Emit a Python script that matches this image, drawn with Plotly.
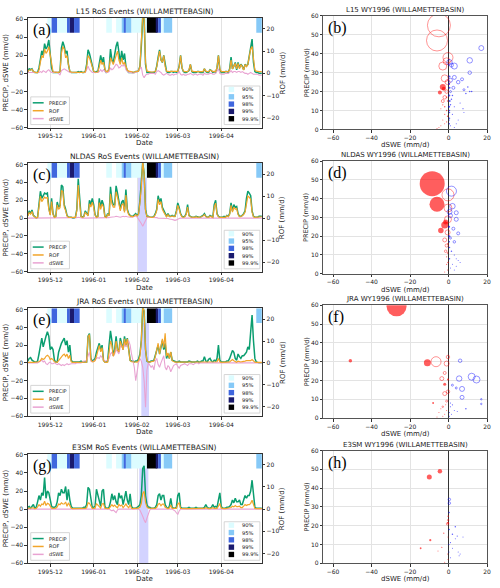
import plotly.graph_objects as go
import pandas as pd

# ---------------- data ----------------
START_DATE = "1995-11-15"
END_DATE = "1996-04-30"
DATES = pd.date_range(START_DATE, END_DATE, freq="D")  # 168 daily values

MONTH_TICKS = ["1995-12-01", "1996-01-01", "1996-02-01", "1996-03-01", "1996-04-01"]
MONTH_LABELS = ["1995-12", "1996-01", "1996-02", "1996-03", "1996-04"]

MODELS = ["L15", "NLDAS", "JRA", "E3SM"]

PRECIP_L15 = [2,5,4,5,2,1,1,1,6,15, 25,20,33,27,30,37,20,6,1,1, 1,1,1,2,28,35,30,22,25,10,
              2,1,1,1,1,1,2,1,2,1, 1,2,10,26,22,15,8,2,1,2, 2,12,20,12,18,4,1,2,5,27,
              15,12,22,30,35,20,12,25,15,22, 8,3,1,1,1,1,1,2,2,3, 8,30,62,60,10,1,1,1,1,1,
              1,2,8,18,26,15,12,20,8,2, 1,1,2,2,1,2,1,2,8,20, 6,2,1,1,2,3,10,2,1,1,
              1,2,2,1,1,1,5,2,1,1, 4,3,1,2,1,6,20,4,1,1, 1,2,2,1,5,18,5,8,12,4,
              12,6,10,8,4,10,8,10,18,30, 38,12,2,1,1,0,0,0]
ROF_L15 = [0.8,1.5,1.5,1.8,0.8,0.4,0.3,0.3,1.5,5, 8,7,11,9,10,12,8,3,0.8,0.5,
           0.4,0.4,0.4,0.8,9,12,11,7,8,4, 1,0.5,0.4,0.4,0.4,0.4,0.5,0.4,0.5,0.4,
           0.4,0.6,3,8,7,5,3,1,0.5,0.6, 0.6,3,6,4,5,2,0.8,0.8,2,7,
           5,4,6,8,10,6,4,7,4,5, 3,1.5,1,0.8,0.6,0.5,0.5,0.8,0.8,1,
           3,12,26,25,5,1,0.8,0.6,0.6,0.6, 0.6,0.8,3,7,10,6,5,8,3,1,
           0.8,0.8,0.9,0.9,0.8,0.8,0.8,0.9,3,8, 2.5,1,0.8,0.8,0.8,1.5,4,1,0.8,0.8,
           0.8,0.8,0.9,0.8,0.8,0.8,2,1,0.8,0.8, 1.5,1.2,0.8,0.9,0.8,2.5,8,2,0.8,0.8,
           0.8,0.9,0.9,0.8,1.5,6,2,3,4.5,2, 4.5,2,4,3,1.5,4,3,4,7,11,
           12,5,1.5,1,0.8,0.8,0.8,0.8]
DSWE_L15 = [1,1,1,1,1,1,1,1,1,2, 1,3,2,1,3,4,2,1,1,1, 2,1,0,-2,3,4,5,4,3,2,
            1,1,1,1,1,1,1,1,1,1, 1,1,4,8,4,2,1,1,1,1, 1,2,4,2,4,2,1,1,2,6,
            4,5,8,10,9,6,7,9,8,10, 4,2,1,1,1,0,1,1,2,3, 5,7,-2,-5,-2,-1,-1,0,0,0,
            0,-1,2,3,2,1,-1,-2,-1,0, -1,-2,-2,-1,-2,-1,-1,0,2,-1, -2,-1,-2,-2,-1,-1,0,-1,-2,-1,
            -1,-2,-1,-1,-1,-2,0,-1,-1,-1, 0,0,-1,-1,0,2,5,0,-1,-1, -1,0,0,0,1,3,1,2,2,1,
            2,2,1,2,1,0,0,-1,0,1, 0,-1,-1,-1,-1,-2,-2,-2]

PRECIP_NLDAS = [3,8,5,9,3,1,0,1,15,30, 22,25,28,27,28,12,4,22,5,1, 2,18,12,14,37,35,15,10,3,1,
                1,1,0,0,1,10,44,20,2,1, 2,8,5,3,20,15,22,15,4,1, 2,22,12,20,15,2,1,5,3,35,
                20,15,15,36,28,20,10,18,20,8, 32,10,5,3,2,2,3,5,3,5, 20,40,62,50,10,2,2,1,1,1,
                2,5,10,25,18,22,12,8,5,2, 5,2,2,3,2,2,8,17,12,5, 2,1,2,5,15,3,2,1,1,1,
                2,1,1,1,2,3,5,2,1,1, 3,2,1,15,20,5,2,1,1,1, 2,1,3,2,5,17,8,15,12,13,
                5,2,2,3,5,8,22,30,28,25, 8,2,1,1,1,2,2,2]
ROF_NLDAS = [1,2.5,1.8,3,1,0.3,0.1,0.3,5,10, 7.5,8.5,9.5,9,9.5,4,1.3,7.5,1.7,0.3,
             0.6,6,4,4.7,12.5,12,5,3.4,1,0.3, 0.3,0.3,0.1,0.1,0.3,3.4,15,6.8,0.7,0.3,
             0.6,2.7,1.7,1,6.5,5,7.2,5,1.3,0.3, 0.6,7,4,6.5,5,0.6,0.3,1.6,1,11,
             6.5,5,5,12,9.5,6.5,3.3,6,6.5,2.6, 10.5,3.4,1.6,1,0.6,0.6,1,1.6,1,1.6,
             7,14,26,20,3.4,0.6,0.6,0.3,0.3,0.3, 0.6,1.6,3.4,8.5,6,7.5,4,2.7,1.6,0.6,
             1.6,0.6,0.6,1,0.6,0.6,2.7,5.8,4,1.6, 0.6,0.3,0.6,1.6,5,1,0.6,0.3,0.3,0.3,
             0.6,0.3,0.3,0.3,0.6,1,1.6,0.6,0.3,0.3, 1,0.6,0.3,5,6.8,1.6,0.6,0.3,0.3,0.3,
             0.6,0.3,1,0.6,1.6,5.8,2.7,5,4,4.4, 1.6,0.6,0.6,1,1.6,2.7,7.5,10,9.5,8.5,
             2.7,0.6,0.3,0.3,0.3,0.6,0.6,0.6]
DSWE_NLDAS = [0,0,0,0,0,0,0,0,0,0, 0,0,0,0,0,0,0,0,0,0, 0,0,0,0,0.5,0.5,0,0,0,0,
              0,0,0,0,0,0.5,1,0.5,0,0, 0,0,0,0,0.5,0.5,0.5,0,0,0, 0,0.5,0.5,0.5,0,0,0,0,0.5,1,
              1,1,1.5,2,1.5,1,1,1.5,2,1.5, 2,1.5,1,1,1,1.5,2,2.5,1,-1, -3,-6,-9,-6,-2,0.5,1,1,1,1,
              1,0.5,0.5,0,0,0,0,0,0,0, -0.5,-1,-1,-1.5,-2,-2.5,-2,-1,-0.5,0, 0,0,0,0,0,0,0,0,0,0,
              0,0,0,-0.5,-0.5,-0.5,0,0,0,0, 0,0,0,0,0,0,0,0,0,0, 0,0,0,0,0,0,0,0,0,0,
              0,0,0,0,0,0,0,0,0,0, 0,0,0,0,0,0,0,0]

PRECIP_JRA = [2,5,6,3,2,1,1,2,10,20, 28,18,25,30,35,30,15,18,15,3, 1,1,12,18,22,25,28,20,25,12,
              20,3,1,1,1,1,1,1,2,1, 1,1,1,30,33,5,2,3,5,12, 18,22,15,20,3,1,1,2,20,36,
              25,8,15,30,15,12,28,20,15,30, 20,28,15,3,2,2,1,2,2,4, 10,25,62,58,15,2,1,1,2,2,
              3,8,15,20,10,18,25,15,22,5, 10,5,12,3,2,1,1,1,2,1, 1,1,1,1,1,2,1,1,1,1,
              1,2,1,1,2,2,7,2,1,4, 5,2,1,3,2,5,20,3,1,1, 1,1,2,2,5,10,14,12,5,3,
              10,7,5,8,8,10,12,18,15,35, 54,25,5,1,0,0,0,0]
ROF_JRA = [0.2,0.3,0.3,0.2,0.2,0.2,0.2,0.2,0.5,1, 2,1.5,2,3,3.5,3,1.5,2,1.5,0.5,
           0.2,0.2,1,2,3,3.5,4,3,4,2, 3.5,0.5,0.2,0.2,0.2,0.2,0.2,0.2,0.2,0.2,
           0.2,0.2,0.3,12,13,1.5,0.5,0.5,1,3, 6,8,5,7,1,0.3,0.2,0.3,5,10,
           8,3,5,10,6,5,10,8,6,11, 8,11,6,1,0.5,0.4,0.3,0.3,0.3,1,
           3,10,26,24,6,1,0.4,0.3,0.4,0.4, 0.8,3,6,9,4,7,11,7,13.5,3,
           4.5,2,5,1,0.5,0.3,0.3,0.3,0.3,0.2, 0.2,0.2,0.2,0.2,0.2,0.2,0.2,0.2,0.2,0.2,
           0.2,0.2,0.2,0.2,0.2,0.2,0.5,0.3,0.2,0.4, 0.5,0.3,0.2,0.3,0.3,0.5,2,0.5,0.2,0.2,
           0.2,0.2,0.2,0.2,0.4,1,1.5,1,0.5,0.3, 0.8,0.5,0.4,0.6,0.6,0.8,1,1,0.8,1,
           1.5,0.8,0.3,0.2,0.2,0.2,0.2,0.2]
DSWE_JRA = [0,0,0,0,0,0,0,0,1,2, 3,1,2,-1,-2,0,1,-1,-1,0, -1,-2,-1,-2,-3,-2,-3,-2,-1,-2,
            -1,-1,-1,-1,-1,0,0,0,0,1, 2,2,3,8,12,2,1,2,3,5, 6,5,8,6,3,2,2,3,5,10,
            12,8,10,15,12,10,18,20,15,22, 18,20,25,20,10,2,-5,-20,-8,0, 5,2,-5,-20,-50,-8,0,-2,-5,-3,
            -8,2,5,-2,-5,0,5,8,-5,-8, -3,-5,-10,-6,-3,-2,-1,-4,-6,-3, -2,-2,-1,-2,-3,-1,-1,-1,-2,-1,
            0,0,-1,0,0,0,0,0,0,0, 0,0,0,0,0,0,0,0,0,0, 0,0,0,0,0,0,0,0,0,0,
            0,0,0,0,0,0,0,0,0,0, 0,0,0,0,0,0,0,0]

PRECIP_E3SM = [2,3,1,3,5,1,2,8,15,10, 18,15,35,12,20,18,8,3,2,2, 3,8,18,15,22,18,18,25,10,22,
               10,3,1,1,1,1,1,1,1,1, 2,2,5,24,22,10,2,2,3,22, 15,8,3,20,22,3,1,1,2,8,
               17,10,15,8,5,18,12,15,5,12, 20,10,5,17,3,1,1,1,2,3, 5,15,45,48,15,5,2,2,1,1,
               1,2,5,15,17,10,15,15,5,2, 1,3,12,2,1,1,2,15,18,2, 1,1,1,1,1,2,1,1,1,1,
               2,1,1,1,1,1,2,5,2,1, 1,2,5,2,3,2,10,18,3,1, 1,1,2,2,3,5,10,7,12,8,
               8,10,5,5,10,15,12,15,15,20, 32,12,2,1,1,1,1,1]
ROF_E3SM = [0.3,0.4,0.2,0.4,0.6,0.2,0.3,1,2,1.3, 2.3,2,3.5,1.6,2.6,2.3,1,0.4,0.3,0.3,
            0.4,1,2.3,2,2.8,2.3,2.3,3.2,1.3,2.8, 1.3,0.4,0.2,0.2,0.2,0.2,0.2,0.2,0.2,0.2,
            0.3,0.3,0.6,2.8,2.6,1.2,0.3,0.3,0.4,2.5, 1.8,1,0.4,2.3,2.5,0.4,0.2,0.2,0.3,1,
            2,1.2,1.8,1,0.6,2.1,1.4,1.8,0.6,1.4, 2.3,1.2,0.6,2,0.4,0.2,0.2,0.2,0.3,0.4,
            0.8,2.5,7,8,3,1,0.4,0.4,0.2,0.2, 0.2,0.3,0.8,2.2,2.5,1.5,2.2,2.2,0.8,0.3,
            0.2,0.5,1.8,0.3,0.2,0.2,0.3,2.2,2.8,0.3, 0.2,0.2,0.2,0.2,0.2,0.2,0.2,0.2,0.2,0.2,
            0.2,0.2,0.2,0.2,0.2,0.2,0.3,0.6,0.3,0.2, 0.2,0.3,0.6,0.3,0.4,0.3,1.3,2.5,0.4,0.2,
            0.2,0.2,0.3,0.3,0.4,0.7,1.3,1,1.6,1.1, 1.1,1.3,0.7,0.7,1.3,2,1.6,2,2,2.6,
            4,1.6,0.3,0.2,0.2,0.2,0.2,0.2]
DSWE_E3SM = [0,0,0,0,0,0,0,0,0,0, 0,0,0,0,0,0,0,0,0,0, 0,0,0,0,0,0,0,0,0,0,
             0,0,0,0,0,0,0,0,0,0, 0,0,0,0,0,0,0,0,0,0, 0,0,0,0,0,0,0,0,0,-1,
             -2,-1,-3,-4,-1,0,0,0,0,0, 0,0,0,0,0,0,0,0,0,0, -1,-4,-8,-12,-15,-10,-4,-1,0,0,
             0,0,0,0,0,0,0,0,0,0, 0,0,0,0,-1,-2,-4,-6,-2,0, 0,0,0,0,0,0,0,0,0,0,
             0,0,0,0,0,0,0,0,0,0, 0,0,0,0,0,0,0,0,0,0, 0,0,0,0,0,0,0,0,0,0,
             0,0,0,0,0,0,0,0,0,0, 0,0,0,0,0,0,0,0]

PRECIP = {"L15": PRECIP_L15, "NLDAS": PRECIP_NLDAS, "JRA": PRECIP_JRA, "E3SM": PRECIP_E3SM}
ROF = {"L15": ROF_L15, "NLDAS": ROF_NLDAS, "JRA": ROF_JRA, "E3SM": ROF_E3SM}
DSWE = {"L15": DSWE_L15, "NLDAS": DSWE_NLDAS, "JRA": DSWE_JRA, "E3SM": DSWE_E3SM}

# RoS percentile band (same in all panels)
BAND_START = ["1995-11-29", "1995-12-02", "1995-12-06", "1995-12-13", "1995-12-15", "1995-12-18",
              "1996-01-10", "1996-01-17", "1996-01-21", "1996-01-23", "1996-01-24", "1996-01-28",
              "1996-02-08", "1996-02-15", "1996-02-16", "1996-02-18", "1996-02-20", "1996-04-26"]
BAND_END = ["1995-12-02", "1995-12-06", "1995-12-13", "1995-12-15", "1995-12-18", "1995-12-22",
            "1996-01-14", "1996-01-21", "1996-01-23", "1996-01-24", "1996-01-28", "1996-02-08",
            "1996-02-15", "1996-02-16", "1996-02-18", "1996-02-20", "1996-02-26", "1996-04-30"]
BAND_LEVEL = ["90%", "98%", "90%", "98%", "99%", "98%",
              "90%", "90%", "95%", "98%", "95%", "90%",
              "99.9%", "99%", "98%", "90%", "95%", "95%"]
LEVELS = ["90%", "95%", "98%", "99%", "99.9%"]

# highlighted event window
SPAN = {"L15": None,
        "NLDAS": ("1996-02-01", "1996-02-08"),
        "JRA": ("1996-02-04", "1996-02-09 12:00"),
        "E3SM": ("1996-02-02 12:00", "1996-02-09")}

# scatter: dSWE, PRECIP, magnitude (marker diameter), RoS flag
SC_L15_DSWE = [-5,-6,-3,-0.3,-1,-2,-0.5,-2,-3,-1,-3,-4.5,-2.5,17,11,3,0.5,1.5,11,3,7,5,1,2.5,1,8,
               11,10,12,9,6,7.5,3,2,5,8,4,1.5,2,0.5,1,0.5,1,3,0.5,0.3,0.5,0.4,0.6,0.3,0.5,0.5,0.4,
               -1,-2,-3,-4,-5,-1,-2,-0.5,-1,-3,-6,-4,-2,-0.5]
SC_L15_PRECIP = [55,47,33.5,38,36,27,25,17,15,20,22.5,19.5,21.5,43,36.5,33.5,35.5,34,30,27.5,26.5,25,26,22,20,21,
                 20,22.5,20,19,14,11,12,8,5,9,3,16,18,10,13,5,2,1,28,24,22,18,15,12,9,6,3,
                 10,8,5,2,1,4,12,15,17,13,0.5,11,3,7]
SC_L15_MAG = [23,21,8,10,7,7,5,3.5,3,3.5,6,4,4,5,5.5,6,5.5,4,3.5,4,3,3.5,4,3,2,2,
              1.5,1.5,1.5,1.5,1.2,1.2,1.2,1.2,1,1,1,1.5,1.5,1.5,1.5,1.2,1,1,2,2,2,2,2,2,1.5,1.5,1.5,
              1.5,1.2,1,1,1,1.2,1.5,1.5,1.5,1.2,1,1,1,1.5]
SC_L15_EVENT = [0,0,0,0,0,0,0,0,0,0,1,1,1,0,0,0,0,0,0,0,0,0,0,0,0,0,
                1,1,1,1,1,1,1,1,1,1,1,1,1,1,1,1,1,1,1,1,1,1,1,1,1,1,1,
                1,1,1,1,1,1,1,1,1,1,1,1,1,1]

SC_NLDAS_DSWE = [-8.5,-6,-2,-4,-1.5,-0.3,-0.3,-0.3,-2,-0.5,-1,-1.5,1.5,2,4,4,1,0.5,5,3,2.5,1,
                 3,4,5,6,2,1,3,1.5,0.5,0.5,4,0.4,0.3,0.4,-1,-0.5,-2,-1,-0.5,-0.4,-0.3]
SC_NLDAS_PRECIP = [48,37,26,23,27.5,42,35,29,18,22,15,12,44,36,32.5,29,31,33,21.5,17,24,19,
                   10,8,7,6,5,3,2,12,8,14,4,20,25,17,5,2,1,9,11,16,6]
SC_NLDAS_MAG = [25,15,7,5.5,5,12,8,7,4,5,3,2.5,10,5.5,4,4,4,5,3,2.5,3,2,
                1.2,1,1,1,1,1,1,1.5,1.5,1.5,1,2,2,1.5,1.2,1.2,1,1.2,1.5,1.5,1.5]
SC_NLDAS_EVENT = [1,1,1,1,1,0,0,0,0,0,0,0,0,0,0,0,0,0,0,0,0,0,
                  1,1,1,1,1,1,1,1,1,1,1,1,1,1,1,1,1,1,1,1,1]

SC_JRA_DSWE = [-27,-51,-11,-2,-8,-0.3,-6.5,-0.3,-1,-2,-3.5,-2,-0.3,-1,-3,12,14.5,5.5,7,7,6,2,4,17,17,
               9,1,2,3,0.5,1.5,4.5,1,0.5,-4,-5,-2,-3,-1,-6,-1.5]
SC_JRA_PRECIP = [59.5,30.5,29.5,18,8,20.5,30,32.5,29,24,21,13,14,9,6,22,20.5,21,15.5,11,30.5,17.5,16,10,7.5,
                 5,6,7,4,3,2,3.5,8,1,5,3,2,1,4,0.5,7]
SC_JRA_MAG = [20,3.5,7,3,2,2,10,3.5,5,3,4,4,3.5,2,1.5,7,7,5.5,5,4,3.5,2,2,1.5,1.5,
              1.5,1.2,1.2,1,1,1,1,1.2,1,1,1,1,1,1,1,1]
SC_JRA_EVENT = [1,1,1,1,1,1,0,0,0,0,0,0,0,0,0,0,0,0,0,0,0,0,0,0,0,
                1,1,1,1,1,1,1,1,1,1,1,1,1,1,1,1]

SC_E3SM_DSWE = [-10,-4.5,-9.5,-14.5,-3.5,-2.5,-5.5,-0.2,-0.3,-0.5,-0.2,0.4,0.4,3.5,2,4.5,3.5,7.5,1,5,6,5.5,2,1,
                0.3,0.3,0.2,0.2,-0.3,-0.5,-0.3,-2]
SC_E3SM_PRECIP = [46,49,12.3,8,8.5,16,6.5,25,21.5,21,23,34,32,19.5,15.5,14.5,13,14,11,6,5,4,8,3,
                  27,18,10,6,14,5,2,0.5]
SC_E3SM_MAG = [5,4.5,2.2,1.8,1.3,1.3,1,1.5,2,2.5,1.5,2.5,2.5,1.5,1.5,1.2,1,1,1.2,1,1,1,1,1,
               1.5,1.5,1.2,1.2,1,1,1,1]
SC_E3SM_EVENT = [1,1,1,1,1,1,1,1,1,0,0,0,0,1,1,1,1,1,1,1,1,1,1,1,
                 1,1,1,1,1,1,1,1]

SCATTER = {"L15": (SC_L15_DSWE, SC_L15_PRECIP, SC_L15_MAG, SC_L15_EVENT),
           "NLDAS": (SC_NLDAS_DSWE, SC_NLDAS_PRECIP, SC_NLDAS_MAG, SC_NLDAS_EVENT),
           "JRA": (SC_JRA_DSWE, SC_JRA_PRECIP, SC_JRA_MAG, SC_JRA_EVENT),
           "E3SM": (SC_E3SM_DSWE, SC_E3SM_PRECIP, SC_E3SM_MAG, SC_E3SM_EVENT)}

PANEL_LETTERS = [("(a)", "(b)"), ("(c)", "(d)"), ("(e)", "(f)"), ("(g)", "(h)")]

# ---------------- styling / layout ----------------
W, H = 500, 588
FONT = "DejaVu Sans"
C_PRECIP = "#0b9e70"
C_ROF = "#f2a52a"
C_DSWE = "#e9a3d2"
LEVEL_COLORS = {"90%": "#dcfcff", "95%": "#86c9f7", "98%": "#3f66de", "99%": "#1a1a6e", "99.9%": "#000000"}

TIME_TOP = [14, 161, 308, 455]
TIME_BOT = [125, 271, 417, 566]
SCAT_TOP = [12, 159, 305, 452]
SCAT_BOT = [127, 273, 419, 566]
TX0, TX1 = 28, 264
SX0, SX1 = 326, 491


def px(x):
    return x / W


def py(y):
    return 1 - y / H


def ax_name(kind, n):
    return kind + "axis" + ("" if n == 1 else str(n))


def ax_ref(kind, n):
    return kind + ("" if n == 1 else str(n))


fig = go.Figure()
layout = dict(width=W, height=H, margin=dict(l=0, r=0, t=0, b=0),
              paper_bgcolor="white", plot_bgcolor="white", showlegend=False,
              barmode="overlay", font=dict(family=FONT, size=6, color="#222"))
shapes = []
annotations = []

band_s = pd.to_datetime(BAND_START)
band_e = pd.to_datetime(BAND_END)
band_mid = band_s + (band_e - band_s) / 2
band_w = [(e - s).total_seconds() * 1000 for s, e in zip(band_s, band_e)]
band_col = [LEVEL_COLORS[l] for l in BAND_LEVEL]

tick_font = dict(family=FONT, size=6, color="#222")
common_ticks = dict(ticks="outside", ticklen=2.5, tickcolor="#333", tickfont=tick_font,
                    ticklabeloverflow="allow")

for k, model in enumerate(MODELS):
    nt = 2 * k + 1
    ns = 2 * k + 2
    nr = 9 + k
    t0, t1 = TIME_TOP[k], TIME_BOT[k]
    s0, s1 = SCAT_TOP[k], SCAT_BOT[k]

    # ---- time-series axes ----
    layout[ax_name("x", nt)] = dict(
        domain=[px(TX0), px(TX1)], anchor=ax_ref("y", nt), type="date",
        range=[DATES[0], DATES[-1]], tickvals=MONTH_TICKS, ticktext=MONTH_LABELS,
        showgrid=True, gridcolor="#e2e2e2", gridwidth=1, zeroline=False,
        showline=True, mirror=True, linecolor="#333", linewidth=1, **common_ticks)
    layout[ax_name("y", nt)] = dict(
        domain=[py(t1), py(t0)], anchor=ax_ref("x", nt), range=[-60, 61.5],
        tickvals=[-60, -40, -20, 0, 20, 40, 60], showgrid=False, zeroline=False,
        showline=True, linecolor="#333", linewidth=1, **common_ticks)
    layout[ax_name("y", nr)] = dict(
        overlaying=ax_ref("y", nt), side="right", anchor=ax_ref("x", nt),
        range=[-24.4, 25.0], tickvals=[-20, -10, 0, 10, 20], showgrid=False, zeroline=False,
        showline=True, linecolor="#333", linewidth=1, **common_ticks)

    xr, yr, rr = ax_ref("x", nt), ax_ref("y", nt), ax_ref("y", nr)

    # percentile band
    fig.add_trace(go.Bar(x=band_mid, y=[61.5 - 45] * len(band_mid), base=45, width=band_w,
                         marker=dict(color=band_col, line=dict(width=0)),
                         xaxis=xr, yaxis=yr, hoverinfo="skip"))
    # lines
    fig.add_trace(go.Scatter(x=DATES, y=PRECIP[model], mode="lines", name="PRECIP",
                             line=dict(color=C_PRECIP, width=1.5), xaxis=xr, yaxis=yr))
    fig.add_trace(go.Scatter(x=DATES, y=DSWE[model], mode="lines", name="dSWE",
                             line=dict(color=C_DSWE, width=1.1), xaxis=xr, yaxis=yr))
    fig.add_trace(go.Scatter(x=DATES, y=ROF[model], mode="lines", name="ROF",
                             line=dict(color=C_ROF, width=1.2), xaxis=xr, yaxis=rr))

    if SPAN[model] is not None:
        shapes.append(dict(type="rect", xref=xr, yref=yr + " domain",
                           x0=SPAN[model][0], x1=SPAN[model][1], y0=0, y1=1,
                           fillcolor="rgba(80,80,255,0.25)", line=dict(width=0), layer="below"))

    # ---- scatter axes ----
    layout[ax_name("x", ns)] = dict(
        domain=[px(SX0), px(SX1)], anchor=ax_ref("y", ns), range=[-65, 20],
        tickvals=[-60, -40, -20, 0, 20], showgrid=True, gridcolor="#e3e3e3", gridwidth=1.3,
        zeroline=True, zerolinecolor="#333", zerolinewidth=1.2,
        showline=True, mirror=True, linecolor="#555", linewidth=1, **common_ticks)
    layout[ax_name("y", ns)] = dict(
        domain=[py(s1), py(s0)], anchor=ax_ref("x", ns), range=[0, 60],
        tickvals=[0, 10, 20, 30, 40, 50, 60], showgrid=True, gridcolor="#e3e3e3", gridwidth=1.3,
        zeroline=False, showline=True, mirror=True, linecolor="#555", linewidth=1, **common_ticks)
    sxr, syr = ax_ref("x", ns), ax_ref("y", ns)

    dx, pr, mag, ev = SCATTER[model]
    for neg in (True, False):
        col = (255, 0, 0) if neg else (0, 0, 255)
        for filled in (0, 1):
            idx = [i for i in range(len(dx)) if (dx[i] < 0) == neg and ev[i] == filled]
            if not idx:
                continue
            xs = [dx[i] for i in idx]
            ys = [pr[i] for i in idx]
            ss = [mag[i] for i in idx]
            if filled:
                marker = dict(size=ss, color="rgba(%d,%d,%d,0.9)" % col, line=dict(width=0),
                              symbol="circle")
            else:
                marker = dict(size=ss, color="rgba(%d,%d,%d,0.6)" % col, symbol="circle-open",
                              line=dict(width=1, color="rgba(%d,%d,%d,0.6)" % col))
            fig.add_trace(go.Scatter(x=xs, y=ys, mode="markers", marker=marker, cliponaxis=True,
                                     xaxis=sxr, yaxis=syr, hoverinfo="skip"))

    # ---- texts ----
    annotations.append(dict(text=f"{model} RoS Events (WILLAMETTEBASIN)", xref="paper", yref="paper",
                            x=px((TX0 + TX1) / 2), y=py(t0 - 6.5), showarrow=False,
                            font=dict(size=7.5, family=FONT, color="#222"), xanchor="center", yanchor="middle"))
    annotations.append(dict(text=f"{model} WY1996 (WILLAMETTEBASIN)", xref="paper", yref="paper",
                            x=px((SX0 + SX1) / 2), y=py(s0 - 6), showarrow=False,
                            font=dict(size=7, family=FONT, color="#222"), xanchor="center", yanchor="middle"))
    annotations.append(dict(text="PRECIP, dSWE (mm/d)", xref="paper", yref="paper", textangle=-90,
                            x=px(6), y=py((t0 + t1) / 2), showarrow=False,
                            font=dict(size=7, family=FONT, color="#222"), xanchor="center", yanchor="middle"))
    annotations.append(dict(text="ROF (mm/d)", xref="paper", yref="paper", textangle=-90,
                            x=px(285), y=py((t0 + t1) / 2), showarrow=False,
                            font=dict(size=7, family=FONT, color="#222"), xanchor="center", yanchor="middle"))
    annotations.append(dict(text="Date", xref="paper", yref="paper",
                            x=px((TX0 + TX1) / 2), y=py(t1 + 16), showarrow=False,
                            font=dict(size=7, family=FONT, color="#222"), xanchor="center", yanchor="middle"))
    annotations.append(dict(text="PRECIP (mm/d)", xref="paper", yref="paper", textangle=-90,
                            x=px(309), y=py((s0 + s1) / 2), showarrow=False,
                            font=dict(size=6.5, family=FONT, color="#222"), xanchor="center", yanchor="middle"))
    annotations.append(dict(text="dSWE (mm/d)", xref="paper", yref="paper",
                            x=px((SX0 + SX1) / 2), y=py(s1 + 16), showarrow=False,
                            font=dict(size=7, family=FONT, color="#222"), xanchor="center", yanchor="middle"))
    la, lb = PANEL_LETTERS[k]
    annotations.append(dict(text=la, xref="paper", yref="paper", x=px(TX0 + 3), y=py(t0 + 1),
                            showarrow=False, xanchor="left", yanchor="top",
                            font=dict(size=16, family="Liberation Serif", color="#000")))
    annotations.append(dict(text=lb, xref="paper", yref="paper", x=px(SX0 + 3), y=py(s0 + 1),
                            showarrow=False, xanchor="left", yanchor="top",
                            font=dict(size=16, family="Liberation Serif", color="#000")))

    # ---- legend: lines ----
    shapes.append(dict(type="rect", xref="paper", yref="paper", x0=px(31), x1=px(70),
                       y0=py(t1 - 3), y1=py(t1 - 31), fillcolor="rgba(255,255,255,0.85)",
                       line=dict(color="#cccccc", width=0.8), layer="above"))
    for j, (lab, col) in enumerate([("PRECIP", C_PRECIP), ("ROF", C_ROF), ("dSWE", C_DSWE)]):
        yy = t1 - 25 + j * 8
        shapes.append(dict(type="line", xref="paper", yref="paper", x0=px(33), x1=px(44),
                           y0=py(yy), y1=py(yy), line=dict(color=col, width=1.5), layer="above"))
        annotations.append(dict(text=lab, xref="paper", yref="paper", x=px(47.5), y=py(yy),
                                showarrow=False, xanchor="left", yanchor="middle",
                                font=dict(size=5, family=FONT, color="#222")))
    # ---- legend: percentiles ----
    shapes.append(dict(type="rect", xref="paper", yref="paper", x0=px(226), x1=px(262),
                       y0=py(t1 - 3), y1=py(t1 - 42), fillcolor="rgba(255,255,255,0.85)",
                       line=dict(color="#cccccc", width=0.8), layer="above"))
    for j, lev in enumerate(LEVELS):
        yy = t1 - 38.5 + j * 7.4
        shapes.append(dict(type="rect", xref="paper", yref="paper", x0=px(230.5), x1=px(236),
                           y0=py(yy - 2.7), y1=py(yy + 2.7), fillcolor=LEVEL_COLORS[lev],
                           line=dict(width=0), layer="above"))
        annotations.append(dict(text=lev, xref="paper", yref="paper", x=px(242), y=py(yy),
                                showarrow=False, xanchor="left", yanchor="middle",
                                font=dict(size=5.2, family=FONT, color="#222")))

layout["shapes"] = shapes
layout["annotations"] = annotations
fig.update_layout(**layout)
fig.write_html("out.html", config={"displayModeBar": False},
               post_script="document.body.style.margin='0';document.body.style.padding='0';")
